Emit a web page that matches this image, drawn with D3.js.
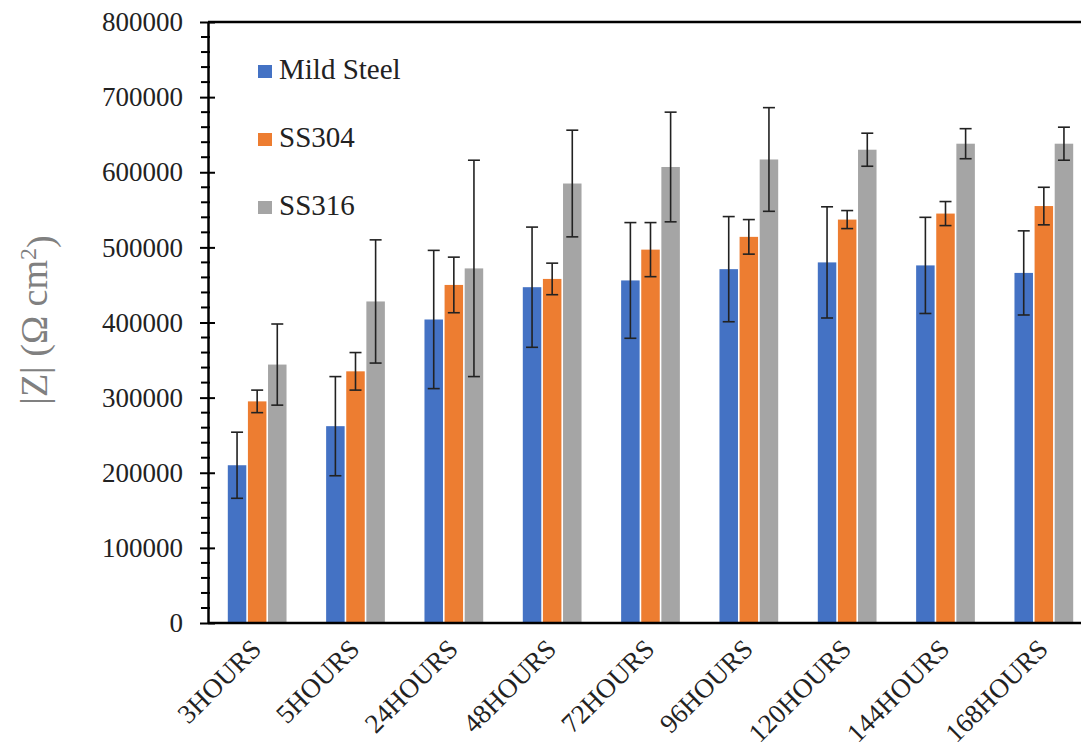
<!DOCTYPE html>
<html>
<head>
<meta charset="utf-8">
<script src="https://cdn.jsdelivr.net/npm/d3@7"></script>
<style>
  body { margin: 0; background: #fff; }
  svg { display: block; }
  svg text { font-family: "Liberation Serif", "DejaVu Serif", serif; }
</style>
</head>
<body>
<div id="chart"></div>
<script>
// values
var categories = ["3HOURS", "5HOURS", "24HOURS", "48HOURS", "72HOURS", "96HOURS", "120HOURS", "144HOURS", "168HOURS"];
var seriesNames = ["Mild Steel", "SS304", "SS316"];
var mildSteel = [210000, 262000, 404000, 447000, 456000, 471000, 480000, 476000, 466000];
var mildSteelErr = [44000, 66000, 92000, 80000, 77000, 70000, 74000, 64000, 56000];
var ss304 = [295000, 335000, 450000, 458000, 497000, 514000, 537000, 545000, 555000];
var ss304Err = [15000, 25000, 37000, 21000, 36000, 23000, 12000, 16000, 25000];
var ss316 = [344000, 428000, 472000, 585000, 607000, 617000, 630000, 638000, 638000];
var ss316Err = [54000, 82000, 144000, 71000, 73000, 69000, 22000, 20000, 22000];
var yTicks = [0, 100000, 200000, 300000, 400000, 500000, 600000, 700000, 800000];
var colors = ["#4472C4", "#ED7D31", "#A5A5A5"];

(function() {
var width = 1081, height = 742;
var mLeft = 208, mTop = 22, mBottom = 623, mRight = 1093;
var serif = "'Liberation Serif', 'DejaVu Serif', serif";

var svg = d3.select("#chart").append("svg")
  .attr("width", width)
  .attr("height", height);

var x0 = d3.scaleBand()
  .domain(categories)
  .range([mLeft, mRight])
  .paddingInner(0.37)
  .paddingOuter(0.185);

var x1 = d3.scaleBand()
  .domain(seriesNames)
  .range([0, x0.bandwidth()])
  .padding(0.08);

var y = d3.scaleLinear()
  .domain([0, 800000])
  .range([mBottom, mTop]);

var rows = categories.map(function(c, i) {
  return [
    { cat: c, name: "Mild Steel", v: mildSteel[i], e: mildSteelErr[i], k: 0 },
    { cat: c, name: "SS304", v: ss304[i], e: ss304Err[i], k: 1 },
    { cat: c, name: "SS316", v: ss316[i], e: ss316Err[i], k: 2 }
  ];
});

// bars
var groups = svg.selectAll(".grp")
  .data(rows)
  .enter().append("g")
  .attr("class", "grp")
  .attr("transform", function(d) { return "translate(" + x0(d[0].cat) + ",0)"; });

groups.selectAll("rect")
  .data(function(d) { return d; })
  .enter().append("rect")
  .attr("x", function(d) { return x1(d.name); })
  .attr("y", function(d) { return y(d.v); })
  .attr("width", x1.bandwidth())
  .attr("height", function(d) { return y(0) - y(d.v); })
  .style("fill", function(d) { return colors[d.k]; });

// error bars
var err = groups.selectAll(".err")
  .data(function(d) { return d; })
  .enter().append("g")
  .attr("class", "err")
  .attr("stroke", "#222")
  .attr("stroke-width", 1.6);

err.append("line")
  .attr("x1", function(d) { return x1(d.name) + x1.bandwidth() / 2; })
  .attr("x2", function(d) { return x1(d.name) + x1.bandwidth() / 2; })
  .attr("y1", function(d) { return y(d.v + d.e); })
  .attr("y2", function(d) { return y(d.v - d.e); });

[1, -1].forEach(function(s) {
  err.append("line")
    .attr("x1", function(d) { return x1(d.name) + x1.bandwidth() / 2 - 6; })
    .attr("x2", function(d) { return x1(d.name) + x1.bandwidth() / 2 + 6; })
    .attr("y1", function(d) { return y(d.v + s * d.e); })
    .attr("y2", function(d) { return y(d.v + s * d.e); });
});

// frame lines
svg.append("line")
  .attr("x1", mLeft).attr("x2", mRight)
  .attr("y1", mTop).attr("y2", mTop)
  .attr("stroke", "#000").attr("stroke-width", 2.5);

svg.append("line")
  .attr("x1", mLeft).attr("x2", mRight)
  .attr("y1", mBottom).attr("y2", mBottom)
  .attr("stroke", "#000").attr("stroke-width", 2.5);

// y axis with minor ticks
var minor = d3.range(0, 800001, 20000).filter(function(v) { return v % 100000 !== 0; });
svg.selectAll(".minor")
  .data(minor)
  .enter().append("line")
  .attr("x1", mLeft - 7).attr("x2", mLeft + 2)
  .attr("y1", function(d) { return y(d); })
  .attr("y2", function(d) { return y(d); })
  .attr("stroke", "#000").attr("stroke-width", 2);

var yAxis = svg.append("g")
  .attr("transform", "translate(" + mLeft + ",0)")
  .call(d3.axisLeft(y).tickValues(yTicks).tickSize(8).tickPadding(17).tickFormat(d3.format("d")).tickSizeOuter(0));

yAxis.select(".domain").attr("stroke-width", 2.5);
yAxis.selectAll(".tick line").attr("stroke-width", 2).attr("x2", 7).attr("x1", -8);
yAxis.selectAll(".tick text")
  .style("font-family", serif)
  .style("font-size", "27px")
  .attr("fill", "#222");

// x labels
svg.selectAll(".xl")
  .data(categories)
  .enter().append("text")
  .attr("class", "xl")
  .attr("transform", function(d) {
    return "translate(" + (x0(d) + x0.bandwidth() / 2 - 1) + "," + 644 + ") rotate(-45)";
  })
  .attr("text-anchor", "end")
  .attr("dy", "0.35em")
  .style("font-family", serif)
  .style("font-size", "27px")
  .attr("fill", "#222")
  .text(function(d) { return d; });

// y title
var yt = svg.append("text")
  .attr("transform", "translate(47,320) rotate(-90)")
  .attr("text-anchor", "middle")
  .style("font-family", serif)
  .style("font-size", "38px")
  .attr("fill", "#808080");
yt.append("tspan").text("|Z| (Ω cm");
yt.append("tspan").attr("dy", "-0.45em").style("font-size", "24px").text("2");
yt.append("tspan").attr("dy", "0.45em").text(")");

// legend
var legend = svg.selectAll(".lg")
  .data(seriesNames)
  .enter().append("g")
  .attr("class", "lg")
  .attr("transform", function(d, i) { return "translate(258," + (79 + i * 68) + ")"; });

legend.append("rect")
  .attr("x", 0).attr("y", -14)
  .attr("width", 14).attr("height", 13)
  .style("fill", function(d, i) { return colors[i]; });

legend.append("text")
  .attr("x", 21).attr("y", 0)
  .style("font-family", serif)
  .style("font-size", "29px")
  .attr("fill", "#222")
  .text(function(d) { return d; });
})();
</script>
</body>
</html>
